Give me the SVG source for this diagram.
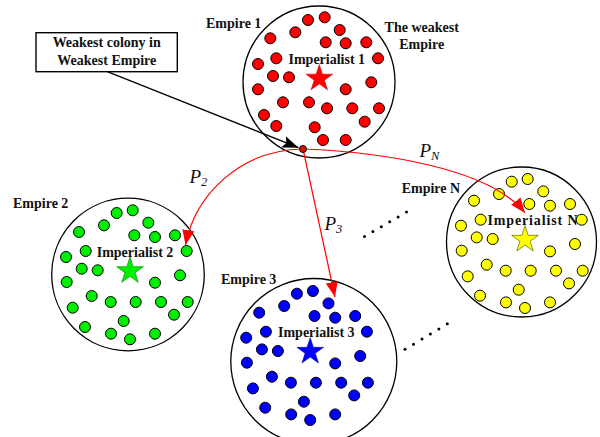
<svg xmlns="http://www.w3.org/2000/svg" xmlns:xlink="http://www.w3.org/1999/xlink" width="600" height="437" viewBox="0 0 600 437">
<style>
.lbl{font-family:"Liberation Serif","Times New Roman",serif;font-weight:bold;font-size:14px;fill:#111}
.math{font-family:"Liberation Serif","Times New Roman",serif;font-style:italic;font-size:19px;fill:#111}
.sub{font-size:12.5px}
.emp{fill:none;stroke:#000;stroke-width:1.3}
.dot{stroke:#000;stroke-width:1}
.dot circle{r:5.5px}
.red{fill:none;stroke:#ff0000;stroke-width:1.2}
.el{fill:#000}
</style>
<defs>
<polygon id="star" points="0,-14 3.145,-4.328 13.315,-4.326 5.088,1.653 8.229,11.326 0,5.35 -8.229,11.326 -5.088,1.653 -13.315,-4.326 -3.145,-4.328"/>
<g id="pat" class="dot">
<circle cx="-13.3" cy="-58" r="5.5"/><circle cx="2.7" cy="-60.7" r="5.5"/><circle cx="-26" cy="-45.7" r="5.5"/><circle cx="18.3" cy="-48.3" r="5.5"/>
<circle cx="-51" cy="-39" r="5.5"/><circle cx="4.3" cy="-35.7" r="5.5"/><circle cx="25" cy="-34" r="5.5"/><circle cx="45" cy="-35.7" r="5.5"/>
<circle cx="-44.3" cy="-20" r="5.5"/><circle cx="56.7" cy="-20" r="5.5"/><circle cx="-64" cy="-14" r="5.5"/><circle cx="-48.3" cy="-2.3" r="5.5"/>
<circle cx="-32.3" cy="-0.7" r="5.5"/><circle cx="50" cy="4.3" r="5.5"/><circle cx="-63.3" cy="11" r="5.5"/><circle cx="25" cy="11.7" r="5.5"/>
<circle cx="-38.3" cy="25" r="5.5"/><circle cx="-19.3" cy="31" r="5.5"/><circle cx="5.7" cy="31" r="5.5"/><circle cx="31" cy="31" r="5.5"/>
<circle cx="57.7" cy="31" r="5.5"/><circle cx="-57.3" cy="36.7" r="5.5"/><circle cx="44" cy="43.7" r="5.5"/><circle cx="-45" cy="56" r="5.5"/>
<circle cx="-6.3" cy="50" r="5.5"/><circle cx="-19" cy="62.7" r="5.5"/><circle cx="0" cy="68.3" r="5.5"/><circle cx="25" cy="62.7" r="5.5"/>
</g>
<marker id="ahBlack" markerUnits="userSpaceOnUse" markerWidth="18" markerHeight="12" refX="16" refY="6" orient="auto">
<path d="M0,0 L16,6 L0,12 L3,6 Z" fill="#000"/>
</marker>
<marker id="ahRed" markerUnits="userSpaceOnUse" markerWidth="16" markerHeight="12" refX="15" refY="6" orient="auto">
<path d="M0,0 L15,6 L0,12 Z" fill="#ff0000"/>
</marker>
</defs>
<rect width="600" height="437" fill="#fff"/>

<g id="empire1">
<circle class="emp" cx="319" cy="82" r="76"/>
<g class="dot" fill="#ff0000">
<circle cx="308" cy="20" r="5.5"/><circle cx="324.7" cy="17.3" r="5.5"/><circle cx="295.3" cy="32.3" r="5.5"/><circle cx="339.7" cy="30" r="5.5"/>
<circle cx="270.3" cy="38.3" r="5.5"/><circle cx="325.7" cy="42.3" r="5.5"/><circle cx="345.7" cy="43.3" r="5.5"/><circle cx="366.3" cy="42.3" r="5.5"/>
<circle cx="276.3" cy="58.3" r="5.5"/><circle cx="378" cy="58.3" r="5.5"/><circle cx="258" cy="64" r="5.5"/><circle cx="273" cy="76" r="5.5"/>
<circle cx="289" cy="77.3" r="5.5"/><circle cx="371.3" cy="82.3" r="5.5"/><circle cx="258" cy="89.3" r="5.5"/><circle cx="345.7" cy="89.3" r="5.5"/>
<circle cx="283" cy="102.3" r="5.5"/><circle cx="309" cy="102.3" r="5.5"/><circle cx="327" cy="108.3" r="5.5"/><circle cx="352.3" cy="108.3" r="5.5"/>
<circle cx="379" cy="108.3" r="5.5"/><circle cx="264" cy="115" r="5.5"/><circle cx="364.7" cy="121.7" r="5.5"/><circle cx="276.3" cy="126" r="5.5"/>
<circle cx="314.7" cy="127.3" r="5.5"/><circle cx="323" cy="140" r="5.5"/><circle cx="345.7" cy="140" r="5.5"/>
</g>
<use href="#star" x="319.3" y="78.5" fill="#ff0000" stroke="#e00000" stroke-width="0.6"/>
<text class="lbl" x="326.8" y="64" text-anchor="middle">Imperialist 1</text>
<text class="lbl" x="206" y="27.5">Empire 1</text>
<text class="lbl" x="421.7" y="31.5" text-anchor="middle">The weakest</text>
<text class="lbl" x="421.7" y="49.3" text-anchor="middle">Empire</text>
</g>

<g id="empire2">
<circle class="emp" cx="128" cy="274.5" r="76.3"/>
<use href="#pat" x="130" y="271" fill="#00ee00"/>
<use href="#star" x="130" y="271" fill="#00ee00" stroke="#009900" stroke-width="0.7"/>
<text class="lbl" x="135" y="257" text-anchor="middle">Imperialist 2</text>
<text class="lbl" x="13" y="208.3">Empire 2</text>
</g>

<g id="empire3">
<circle class="emp" cx="313.8" cy="361.5" r="83"/>
<use href="#pat" x="310.2" y="351.7" fill="#0000ff"/>
<use href="#star" x="310.2" y="351.7" fill="#0000ff" stroke="#0000aa" stroke-width="0.6"/>
<text class="lbl" x="316.3" y="337" text-anchor="middle">Imperialist 3</text>
<text class="lbl" x="221" y="284">Empire 3</text>
</g>

<g id="empireN">
<circle class="emp" cx="521.5" cy="242" r="75"/>
<use href="#pat" x="525" y="239.7" fill="#ffff00"/>
<use href="#star" x="525" y="239.7" fill="#ffff00" stroke="#777700" stroke-width="0.8"/>
<text class="lbl" x="532.5" y="225" text-anchor="middle" textLength="90">Imperialist N</text>
<text class="lbl" x="401.7" y="193.3">Empire N</text>
</g>

<g id="callout">
<rect x="36" y="32.7" width="141.3" height="39" fill="#fff" stroke="#000" stroke-width="1.4"/>
<text class="lbl" x="106.7" y="47.3" text-anchor="middle">Weakest colony in</text>
<text class="lbl" x="106.8" y="65" text-anchor="middle">Weakest Empire</text>
</g>

<g id="connectors">
<line x1="107.3" y1="71.7" x2="298.5" y2="147.7" stroke="#000" stroke-width="1.3" marker-end="url(#ahBlack)"/>
<path class="red" d="M303,149 C240,150 195,195 185.5,245" marker-end="url(#ahRed)"/>
<line class="red" x1="303" y1="149" x2="335" y2="297" marker-end="url(#ahRed)"/>
<path class="red" d="M303,149 C380,152 490,168 525,213" marker-end="url(#ahRed)"/>
</g>

<g id="weakest-colony">
<circle cx="303" cy="149" r="3.5" fill="#ff0000" stroke="#000" stroke-width="1"/>
</g>

<g id="labels">
<text class="math" x="189.5" y="183">P<tspan class="sub" dy="3">2</tspan></text>
<text class="math" x="324.5" y="229.5">P<tspan class="sub" dy="3">3</tspan></text>
<text class="math" x="419.5" y="157">P<tspan class="sub" dy="3">N</tspan></text>
</g>

<g id="ellipsis" class="el">
<circle cx="364.5" cy="236.5" r="1.5"/><circle cx="372.9" cy="231.6" r="1.5"/><circle cx="381.3" cy="226.7" r="1.5"/>
<circle cx="389.7" cy="221.8" r="1.5"/><circle cx="398.1" cy="216.9" r="1.5"/><circle cx="406.5" cy="212" r="1.5"/>
<circle cx="405" cy="349.3" r="1.5"/><circle cx="413.5" cy="344.2" r="1.5"/><circle cx="422" cy="339.1" r="1.5"/>
<circle cx="430.4" cy="334" r="1.5"/><circle cx="438.9" cy="328.9" r="1.5"/><circle cx="447.3" cy="323.8" r="1.5"/>
</g>
</svg>
